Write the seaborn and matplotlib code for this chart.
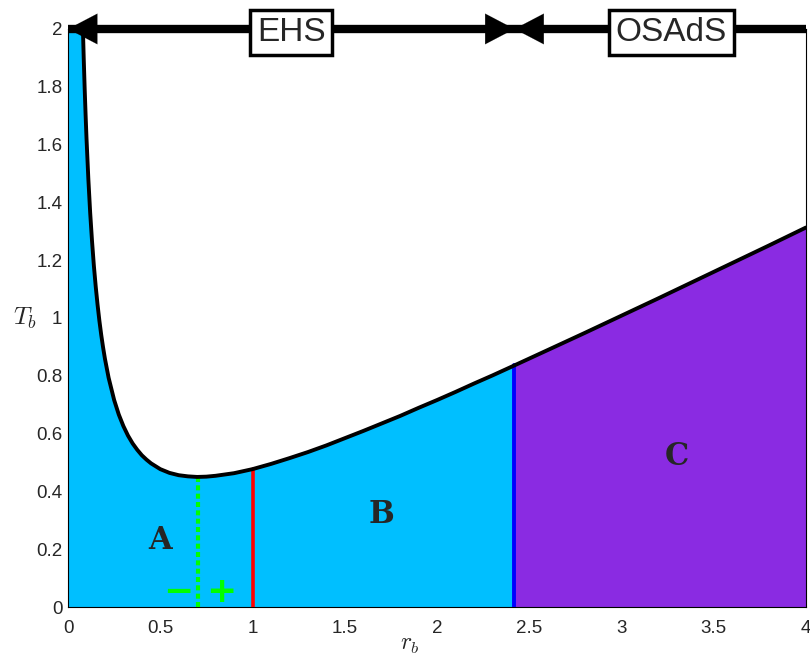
import matplotlib
matplotlib.use("Agg")
import matplotlib.pyplot as plt
import seaborn as sns
import pandas as pd
import numpy as np

# Curve values
r_b = [0.0805, 0.085, 0.09, 0.095, 0.10, 0.11, 0.12, 0.13, 0.14, 0.15, 0.16, 0.17, 0.18,
       0.19, 0.20, 0.22, 0.25, 0.275, 0.30, 0.325, 0.35, 0.375, 0.40, 0.425,
       0.45, 0.50, 0.55, 0.60, 0.65, 0.70, 0.75, 0.80, 0.90, 1.00, 1.10, 1.20, 1.30, 1.40,
       1.50, 1.60, 1.70, 1.80, 1.90, 2.00, 2.10, 2.20, 2.30, 2.42, 2.60, 2.80, 3.00, 3.20,
       3.40, 3.60, 3.80, 4.00]
T_b = [2.003, 1.899, 1.797, 1.706, 1.623, 1.482, 1.364, 1.266, 1.181, 1.109, 1.046, 0.990, 0.941,
       0.898, 0.859, 0.793, 0.716, 0.666, 0.626, 0.593, 0.566, 0.544, 0.525, 0.510,
       0.497, 0.477, 0.464, 0.456, 0.452, 0.450, 0.451, 0.454, 0.463, 0.477, 0.495, 0.515, 0.536, 0.559,
       0.584, 0.609, 0.635, 0.661, 0.689, 0.716, 0.744, 0.773, 0.801, 0.836, 0.889, 0.948, 1.008, 1.068,
       1.129, 1.190, 1.251, 1.313]

r_min, T_min = 0.707, 0.450      # green dotted line
r_red, T_red = 1.0, 0.477        # red line
r_hp, T_hp = 2.42, 0.836         # blue line / phase boundary
region_labels = ["A", "B", "C"]
region_pos = [(0.50, 0.23), (1.70, 0.32), (3.30, 0.52)]
phase_labels = ["EHS", "OSAdS"]
phase_pos = [1.21, 3.27]

xticks = [0, 0.5, 1, 1.5, 2, 2.5, 3, 3.5, 4]
xticklabels = ["0", "0.5", "1", "1.5", "2", "2.5", "3", "3.5", "4"]
yticks = [0, 0.2, 0.4, 0.6, 0.8, 1.0, 1.2, 1.4, 1.6, 1.8, 2.0]
yticklabels = ["0", "0.2", "0.4", "0.6", "0.8", "1", "1.2", "1.4", "1.6", "1.8", "2"]

sns.set_style("white")
plt.rcParams["font.family"] = ["Liberation Sans", "DejaVu Sans"]
plt.rcParams["mathtext.fontset"] = "cm"

fig = plt.figure(figsize=(8.1, 6.58), dpi=100)
ax = fig.add_axes([0.084, 0.0775, 0.911, 0.8785])

df = pd.DataFrame({"r": r_b, "T": T_b})
xs = np.array([0.0] + r_b)
ys = np.array([2.0] + T_b)
ax.fill_between(xs, 0, ys, where=xs <= r_hp + 1e-9, color="#00BFFF", lw=0, zorder=1)
ax.fill_between(xs, 0, ys, where=xs >= r_hp - 1e-9, color="#8A2BE2", lw=0, zorder=1)

sns.lineplot(data=df, x="r", y="T", color="black", lw=2.8, ax=ax, zorder=5, sort=False)

ax.plot([r_min, r_min], [0, T_min], color="#00FF00", lw=3, ls=(0, (1.2, 0.8)), zorder=3)
ax.plot([r_red, r_red], [0, T_red], color="#FF0000", lw=2.6, zorder=3)
ax.plot([r_hp, r_hp], [0, T_hp], color="#0000FF", lw=2.8, zorder=3)

for lab, (x, y) in zip(region_labels, region_pos):
    ax.text(x, y, lab, family="DejaVu Serif", fontweight="bold", fontsize=22,
            ha="center", va="center", zorder=6)

ax.text(0.595, 0.052, "\u2212", color="#00FF00", fontsize=26, fontweight="bold",
        family="DejaVu Sans", ha="center", va="center", zorder=6)
ax.text(0.83, 0.052, "+", color="#00FF00", fontsize=26, fontweight="bold",
        family="DejaVu Sans", ha="center", va="center", zorder=6)

# Top arrows
ax.plot([0, 4], [2, 2], color="black", lw=6, solid_capstyle="butt", clip_on=False, zorder=7)
head = "-|>,head_length=1.05,head_width=0.55"
for tip, tail in [(0.0, 1.0), (r_hp, 1.6), (r_hp, 3.2)]:
    ax.annotate("", xy=(tip, 2), xytext=(tail, 2),
                arrowprops=dict(arrowstyle=head, color="black", lw=0.1,
                                mutation_scale=20, shrinkA=0, shrinkB=0),
                annotation_clip=False, zorder=8)
for lab, x in zip(phase_labels, phase_pos):
    ax.text(x, 1.988, lab, fontsize=24, ha="center", va="center", zorder=9,
            bbox=dict(boxstyle="square,pad=0.2", fc="white", ec="black", lw=2.5))

ax.set_xlim(0, 4)
ax.set_ylim(0, 2)
ax.set_xticks(xticks)
ax.set_xticklabels(xticklabels)
ax.set_yticks(yticks)
ax.set_yticklabels(yticklabels)
ax.tick_params(labelsize=13.5, direction="in", length=4, width=0.6)
ax.tick_params(axis="x", pad=9)
ax.tick_params(axis="y", pad=4)
for s in ax.spines.values():
    s.set_visible(True)
    s.set_color("black")
    s.set_linewidth(0.8)

ax.set_xlabel("$r_b$", fontsize=17, va="center")
ax.xaxis.set_label_coords(0.463, -0.065)
ax.set_ylabel("$T_b$", fontsize=18, rotation=0, va="center", ha="center")
ax.yaxis.set_label_coords(-0.058, 0.50)

fig.savefig("out.png", dpi=100)
